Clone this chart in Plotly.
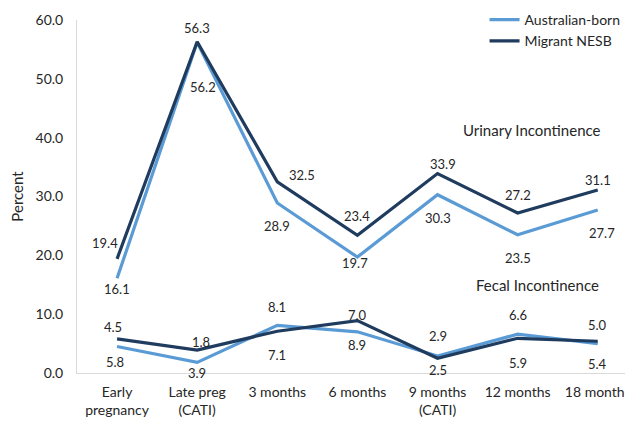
import plotly.graph_objects as go

categories = ["Early<br>pregnancy", "Late preg<br>(CATI)", "3 months", "6 months",
              "9 months<br>(CATI)", "12 months", "18 months"]

urinary_australian = [16.1, 56.2, 28.9, 19.7, 30.3, 23.5, 27.7]
urinary_migrant = [19.4, 56.3, 32.5, 23.4, 33.9, 27.2, 31.1]
fecal_australian = [4.5, 1.8, 8.1, 7.0, 2.9, 6.6, 5.0]
fecal_migrant = [5.8, 3.9, 7.1, 8.9, 2.5, 5.9, 5.4]

y_ticks = [0, 10, 20, 30, 40, 50, 60]

LIGHT = "#5b9bd5"
DARK = "#1f3b5e"
FONT = "Lato"
TXT = "#262626"
WORD = 15
NUM = 13

# label offsets (pixels): (dx, dy) with dy positive = up
off_ua = [(0, -11), (6, -45), (0, -23), (-2, -6), (0, -23), (0, -23), (4, -23)]
off_um = [(-12, 16), (0, 14), (25, 7), (0, 19), (5, 10), (0, 18), (0, 10)]
off_fa = [(-4, 20), (4, 20), (0, 18), (0, 17), (0, 20), (0, 19), (0, 19)]
off_fm = [(-2, -23), (0, -23), (0, -24), (0, -24), (0, -12), (0, -25), (0, -23)]

fig = go.Figure()

def add_line(vals, color, name, show):
    fig.add_trace(go.Scatter(
        x=categories, y=vals, mode="lines", name=name,
        line=dict(color=color, width=3.2), legendgroup=name, showlegend=show,
        hoverinfo="skip"))

add_line(urinary_australian, LIGHT, "Australian-born", True)
add_line(urinary_migrant, DARK, "Migrant NESB", True)
add_line(fecal_australian, LIGHT, "Australian-born", False)
add_line(fecal_migrant, DARK, "Migrant NESB", False)

annotations = []
for vals, offs in [(urinary_australian, off_ua), (urinary_migrant, off_um),
                   (fecal_australian, off_fa), (fecal_migrant, off_fm)]:
    for c, v, (dx, dy) in zip(categories, vals, offs):
        annotations.append(dict(x=c, y=v, text=f"{v:.1f}", showarrow=False,
                                xshift=dx, yshift=dy,
                                font=dict(family=FONT, size=NUM, color=TXT)))

annotations.append(dict(x=0.818, y=41.3, xref="paper", yref="y", text="Urinary Incontinence",
                        showarrow=False, xanchor="center",
                        font=dict(family=FONT, size=WORD, color=TXT)))
annotations.append(dict(x=0.829, y=15.0, xref="paper", yref="y", text="Fecal Incontinence",
                        showarrow=False, xanchor="center",
                        font=dict(family=FONT, size=WORD, color=TXT)))

# the page body has an 8px margin, so the figure is sized/offset to compensate
fig.update_layout(
    width=625, height=414,
    margin=dict(l=69, r=0, t=12, b=49, autoexpand=False),
    paper_bgcolor="white", plot_bgcolor="white",
    font=dict(family=FONT, size=WORD, color=TXT),
    showlegend=True,
    legend=dict(x=0.733, y=1.045, xanchor="left", yanchor="top",
                bgcolor="rgba(0,0,0,0)", font=dict(family=FONT, size=14, color=TXT),
                itemwidth=30, tracegroupgap=0),
    annotations=annotations,
    xaxis=dict(showgrid=False, showline=True, linecolor="#d9d9d9", linewidth=1,
               ticks="", ticklabelstandoff=6, tickfont=dict(family=FONT, size=14, color=TXT),
               range=[-0.5, 6.44], fixedrange=True, automargin=False),
    yaxis=dict(range=[0, 60], tickvals=y_ticks, ticktext=[f"{t:.1f}" for t in y_ticks],
               showgrid=False, zeroline=False, showline=True, linecolor="#d9d9d9",
               linewidth=1, ticks="", ticklabelstandoff=10, automargin=False,
               tickfont=dict(family=FONT, size=NUM + 1, color=TXT),
               title=dict(text="Percent", standoff=12,
                          font=dict(family=FONT, size=WORD, color=TXT))),
)

fig.write_html("out.html")
